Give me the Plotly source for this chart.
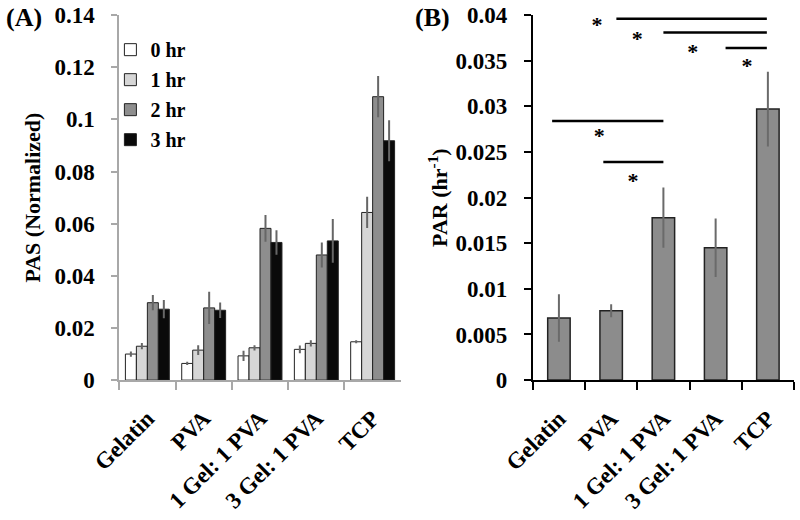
import plotly.graph_objects as go

categories = ["Gelatin", "PVA", "1 Gel: 1 PVA", "3 Gel: 1 PVA", "TCP"]

# Panel A: PAS (Normalized)
series_names = ["0 hr", "1 hr", "2 hr", "3 hr"]
pas_0hr = [0.0100, 0.0064, 0.0093, 0.0118, 0.0147]
pas_1hr = [0.0130, 0.0115, 0.0124, 0.0141, 0.0643]
pas_2hr = [0.0297, 0.0277, 0.0582, 0.0480, 0.1087]
pas_3hr = [0.0272, 0.0268, 0.0528, 0.0534, 0.0918]
err_0hr = [0.0010, 0.0006, 0.0020, 0.0015, 0.0006]
err_1hr = [0.0012, 0.0019, 0.0010, 0.0012, 0.0060]
err_2hr = [0.0029, 0.0062, 0.0051, 0.0048, 0.0079]
err_3hr = [0.0035, 0.0030, 0.0047, 0.0084, 0.0079]

pas_ticks = [0, 0.02, 0.04, 0.06, 0.08, 0.1, 0.12, 0.14]
pas_ticktext = ["0", "0.02", "0.04", "0.06", "0.08", "0.1", "0.12", "0.14"]

# Panel B: PAR (hr^-1)
par_values = [0.0068, 0.0076, 0.0178, 0.0145, 0.0297]
par_err = [0.0026, 0.0007, 0.0033, 0.0032, 0.0041]
par_ticks = [0, 0.005, 0.01, 0.015, 0.02, 0.025, 0.03, 0.035, 0.04]
par_ticktext = ["0", "0.005", "0.01", "0.015", "0.02", "0.025", "0.03", "0.035", "0.04"]

# Significance brackets in panel B (category-index x, data y)
sig_x0 = [0.44, 1.10, 2.00, 3.19, -0.13, 0.85]
sig_x1 = [3.98, 3.98, 3.98, 3.98, 2.00, 2.00]
sig_y = [0.0411, 0.0396, 0.0381, 0.0364, 0.0284, 0.0239]
star_x = [0.73, 1.50, 2.56, 3.60, 0.77, 1.42]
star_y = [0.0388, 0.0372, 0.0358, 0.0343, 0.0266, 0.0216]

FONT = "Liberation Serif, Times New Roman, serif"

fig = go.Figure()

colors = ["#ffffff", "#d6d6d6", "#8e8e8e", "#0a0a0a"]
vals = [pas_0hr, pas_1hr, pas_2hr, pas_3hr]
errs = [err_0hr, err_1hr, err_2hr, err_3hr]
for i, name in enumerate(series_names):
    fig.add_trace(go.Bar(
        x=categories, y=vals[i], name=name,
        marker=dict(color=colors[i], line=dict(color="#222222", width=1)),
        error_y=dict(type="data", array=errs[i], color="#666666", thickness=2, width=0),
        xaxis="x", yaxis="y", legendgroup=name,
    ))

idx = list(range(len(categories)))
fig.add_trace(go.Bar(
    x=idx, y=par_values, width=0.43, showlegend=False,
    marker=dict(color="#8c8c8c", line=dict(color="#222222", width=1.5)),
    error_y=dict(type="data", array=par_err, color="#6a6a6a", thickness=2, width=0),
    xaxis="x2", yaxis="y2",
))

for x0, x1, y in zip(sig_x0, sig_x1, sig_y):
    fig.add_trace(go.Scatter(
        x=[x0, x1], y=[y, y], mode="lines", showlegend=False,
        line=dict(color="black", width=2.5), cliponaxis=False,
        xaxis="x2", yaxis="y2", hoverinfo="skip",
    ))
fig.add_trace(go.Scatter(
    x=star_x, y=star_y, mode="text", text=["*"] * len(star_x),
    textfont=dict(size=22, color="black", family=FONT),
    showlegend=False, cliponaxis=False, xaxis="x2", yaxis="y2", hoverinfo="skip",
))

axis_gray = "#a8a8a8"
fig.update_layout(
    width=800, height=520,
    margin=dict(l=0, r=0, t=0, b=0, autoexpand=False),
    paper_bgcolor="white", plot_bgcolor="white",
    font=dict(family=FONT, size=21, color="black", weight="bold"),
    barmode="group", bargap=0.22, bargroupgap=0,
    showlegend=True,
    legend=dict(x=0.138, y=0.942, xanchor="left", yanchor="top",
                bgcolor="rgba(0,0,0,0)", font=dict(size=20),
                tracegroupgap=1, itemwidth=30),
    xaxis=dict(domain=[0.149, 0.501], type="category", tickson="boundaries",
               showline=True, linecolor=axis_gray, linewidth=1.5,
               ticks="outside", ticklen=8, tickcolor=axis_gray, tickwidth=1.5,
               tickangle=-45, tickfont=dict(size=23), ticklabelstandoff=14,
               showgrid=False, zeroline=False, anchor="y", automargin=False),
    yaxis=dict(domain=[0.269, 0.971], range=[0, 0.14],
               tickvals=pas_ticks, ticktext=pas_ticktext,
               showline=True, linecolor=axis_gray, linewidth=1.5,
               ticks="outside", ticklen=6, tickcolor=axis_gray, tickwidth=1.5,
               tickfont=dict(size=23), ticklabelstandoff=12,
               showgrid=False, zeroline=False, anchor="x", automargin=False,
               title=dict(text="PAS (Normalized)", font=dict(size=22), standoff=8)),
    xaxis2=dict(domain=[0.666, 0.9925], range=[-0.5, 4.5],
                tickvals=idx, ticktext=categories, ticks="",
                minor=dict(tickvals=[-0.5, 0.5, 1.5, 2.5, 3.5, 4.5], ticks="outside",
                           ticklen=8, tickcolor="black", tickwidth=2),
                showline=True, linecolor="black", linewidth=2,
                tickangle=-45, tickfont=dict(size=23), ticklabelstandoff=14,
                showgrid=False, zeroline=False, anchor="y2", automargin=False),
    yaxis2=dict(domain=[0.269, 0.971], range=[0, 0.04],
                tickvals=par_ticks, ticktext=par_ticktext,
                showline=True, linecolor="black", linewidth=2,
                ticks="outside", ticklen=7, tickcolor="black", tickwidth=2,
                tickfont=dict(size=23), ticklabelstandoff=12,
                showgrid=False, zeroline=False, anchor="x2", automargin=False,
                title=dict(text="PAR (hr<sup>-1</sup>)", font=dict(size=22), standoff=2)),
    annotations=[
        dict(text="(A)", x=24 / 800, y=1 - 18 / 520, xref="paper", yref="paper",
             showarrow=False, font=dict(size=26), xanchor="center", yanchor="middle"),
        dict(text="(B)", x=432 / 800, y=1 - 18 / 520, xref="paper", yref="paper",
             showarrow=False, font=dict(size=26), xanchor="center", yanchor="middle"),
    ],
)

fig.write_html(
    "out.html",
    config={"displayModeBar": False},
    post_script="document.body.style.margin='0px';document.body.style.overflow='hidden';",
)
